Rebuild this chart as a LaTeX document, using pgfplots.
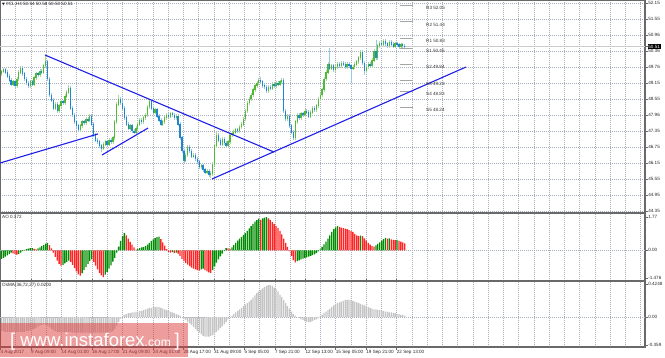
\documentclass[border=0pt]{standalone}
\usepackage{fontspec}
\setmainfont{Liberation Sans}
\newfontfamily\symfont{DejaVu Sans}
\usepackage{pgfplots}
\usepackage{pgfplotstable}
\pgfplotsset{compat=1.18}
\definecolor{cgreen}{RGB}{80,185,55}
\definecolor{cgreenL}{RGB}{170,218,150}
\definecolor{cblue}{RGB}{30,135,205}
\definecolor{cblueL}{RGB}{150,200,235}
\definecolor{aogreen}{RGB}{0,140,0}
\definecolor{aored}{RGB}{255,35,35}
\definecolor{osgray}{RGB}{196,196,196}
\definecolor{gridc}{RGB}{168,175,188}
\definecolor{framec}{RGB}{105,105,105}
\definecolor{tline}{RGB}{30,30,235}
\definecolor{wm}{RGB}{222,60,60}
\newcommand\mt{\fontsize{4.6}{5.5}\selectfont}

\pgfplotstableread{
k o c ao g os
0 49.50 49.58 -0.45 1 -0.18
1 49.58 49.65 -0.40 1 -0.18
2 49.65 49.55 -0.34 1 -0.19
3 49.55 49.40 -0.27 1 -0.19
4 49.40 49.25 -0.20 1 -0.19
5 49.25 49.10 -0.13 1 -0.19
6 49.10 49.20 -0.16 0 -0.19
7 49.20 49.05 -0.20 0 -0.19
8 49.05 49.30 -0.23 0 -0.19
9 49.30 49.55 -0.19 1 -0.19
10 49.55 49.70 -0.12 1 -0.19
11 49.70 49.50 -0.05 1 -0.19
12 49.50 49.30 0.02 1 -0.19
13 49.30 49.15 0.06 1 -0.18
14 49.15 49.05 0.09 1 -0.18
15 49.05 49.20 0.11 1 -0.17
16 49.20 49.10 0.12 1 -0.16
17 49.10 49.35 0.08 0 -0.15
18 49.35 49.50 0.05 0 -0.14
19 49.50 49.45 0.10 1 -0.12
20 49.45 49.60 0.16 1 -0.11
21 49.60 49.55 0.22 1 -0.10
22 49.55 49.80 0.28 1 -0.09
23 49.80 49.95 0.35 1 -0.10
24 49.95 49.30 0.40 1 -0.11
25 49.30 48.70 0.28 0 -0.13
26 48.70 48.50 0.10 0 -0.15
27 48.50 48.20 -0.12 0 -0.17
28 48.20 48.35 -0.35 0 -0.18
29 48.35 48.10 -0.55 0 -0.19
30 48.10 48.30 -0.72 0 -0.19
31 48.30 48.45 -0.82 0 -0.19
32 48.45 48.40 -0.78 1 -0.19
33 48.40 48.65 -0.70 1 -0.19
34 48.65 48.80 -0.62 1 -0.19
35 48.80 48.95 -0.55 1 -0.19
36 48.95 48.20 -0.62 0 -0.19
37 48.20 47.95 -0.78 0 -0.20
38 47.95 47.70 -0.95 0 -0.20
39 47.70 47.55 -1.12 0 -0.20
40 47.55 47.40 -1.28 0 -0.20
41 47.40 47.55 -1.35 0 -0.20
42 47.55 47.70 -1.22 1 -0.20
43 47.70 47.65 -1.05 1 -0.20
44 47.65 47.80 -0.90 1 -0.20
45 47.80 47.75 -0.72 1 -0.20
46 47.75 47.90 -0.58 1 -0.20
47 47.90 47.60 -0.48 1 -0.20
48 47.60 47.20 -0.62 0 -0.20
49 47.20 47.00 -0.82 0 -0.20
50 47.00 46.95 -1.02 0 -0.20
51 46.95 46.80 -1.20 0 -0.20
52 46.80 46.70 -1.34 0 -0.20
53 46.70 46.85 -1.42 0 -0.20
54 46.85 46.95 -1.30 1 -0.20
55 46.95 46.85 -1.15 1 -0.20
56 46.85 47.00 -0.98 1 -0.20
57 47.00 46.95 -0.80 1 -0.19
58 46.95 47.10 -0.60 1 -0.18
59 47.10 47.70 -0.40 1 -0.15
60 47.70 48.35 -0.12 1 -0.11
61 48.35 48.55 0.20 1 -0.06
62 48.55 48.40 0.50 1 -0.02
63 48.40 48.20 0.75 1 0.01
64 48.20 47.85 0.92 1 0.03
65 47.85 47.60 0.80 0 0.04
66 47.60 47.45 0.62 0 0.05
67 47.45 47.55 0.45 0 0.05
68 47.55 47.35 0.30 0 0.06
69 47.35 47.30 0.15 0 0.06
70 47.30 47.45 0.04 0 0.07
71 47.45 47.60 0.08 1 0.07
72 47.60 47.75 0.12 1 0.08
73 47.75 47.70 0.15 1 0.08
74 47.70 47.85 0.17 1 0.09
75 47.85 47.95 0.22 1 0.10
76 47.95 48.25 0.30 1 0.11
77 48.25 48.45 0.40 1 0.12
78 48.45 48.20 0.50 1 0.12
79 48.20 48.05 0.58 1 0.13
80 48.05 48.15 0.65 1 0.13
81 48.15 47.90 0.70 1 0.13
82 47.90 47.75 0.73 1 0.13
83 47.75 47.60 0.60 0 0.12
84 47.60 47.70 0.42 0 0.11
85 47.70 47.85 0.25 0 0.10
86 47.85 47.95 0.06 0 0.09
87 47.95 47.90 -0.08 0 0.08
88 47.90 48.00 -0.12 0 0.07
89 48.00 47.95 -0.10 1 0.06
90 47.95 47.85 -0.15 0 0.05
91 47.85 47.90 -0.12 1 0.04
92 47.90 47.60 -0.18 0 0.03
93 47.60 47.10 -0.30 0 0.02
94 47.10 46.60 -0.45 0 0.00
95 46.60 46.25 -0.58 0 -0.02
96 46.25 46.45 -0.68 0 -0.04
97 46.45 46.75 -0.76 0 -0.06
98 46.75 46.60 -0.84 0 -0.08
99 46.60 46.40 -0.92 0 -0.10
100 46.40 46.45 -0.98 0 -0.13
101 46.45 46.30 -1.02 0 -0.15
102 46.30 46.20 -1.06 0 -0.18
103 46.20 46.00 -1.08 0 -0.20
104 46.00 46.05 -1.02 1 -0.22
105 46.05 45.90 -0.98 1 -0.24
106 45.90 45.80 -1.05 0 -0.25
107 45.80 45.85 -1.12 0 -0.25
108 45.85 45.70 -1.18 0 -0.25
109 45.70 45.75 -1.20 0 -0.24
110 45.75 46.10 -1.05 1 -0.23
111 46.10 46.80 -0.85 1 -0.21
112 46.80 47.20 -0.65 1 -0.19
113 47.20 47.00 -0.48 1 -0.17
114 47.00 46.85 -0.32 1 -0.14
115 46.85 47.05 -0.18 1 -0.12
116 47.05 46.90 -0.05 1 -0.09
117 46.90 46.80 0.12 1 -0.06
118 46.80 46.95 0.10 0 -0.03
119 46.95 47.20 0.08 0 0.00
120 47.20 47.25 0.16 1 0.02
121 47.25 47.30 0.28 1 0.04
122 47.30 47.40 0.40 1 0.06
123 47.40 47.35 0.52 1 0.08
124 47.35 47.50 0.62 1 0.10
125 47.50 47.60 0.72 1 0.12
126 47.60 47.80 0.82 1 0.14
127 47.80 48.10 0.92 1 0.16
128 48.10 48.40 1.04 1 0.18
129 48.40 48.55 1.16 1 0.20
130 48.55 48.70 1.28 1 0.22
131 48.70 48.90 1.40 1 0.25
132 48.90 49.05 1.52 1 0.28
133 49.05 49.15 1.60 1 0.31
134 49.15 49.25 1.68 1 0.33
135 49.25 49.20 1.62 0 0.35
136 49.20 49.05 1.70 1 0.37
137 49.05 49.00 1.74 1 0.39
138 49.00 48.85 1.76 1 0.40
139 48.85 49.00 1.70 0 0.41
140 49.00 48.95 1.62 0 0.41
141 48.95 49.10 1.50 0 0.40
142 49.10 49.05 1.40 0 0.38
143 49.05 49.15 1.30 0 0.36
144 49.15 49.10 1.18 0 0.33
145 49.10 49.20 1.02 0 0.29
146 49.20 49.25 0.85 0 0.26
147 49.25 48.10 0.62 0 0.22
148 48.10 47.80 0.40 0 0.18
149 47.80 47.90 0.18 0 0.14
150 47.90 47.55 -0.05 0 0.11
151 47.55 47.30 -0.30 0 0.07
152 47.30 47.10 -0.52 0 0.04
153 47.10 47.70 -0.64 0 0.02
154 47.70 47.95 -0.58 1 0.00
155 47.95 47.85 -0.53 1 -0.01
156 47.85 48.00 -0.48 1 -0.03
157 48.00 47.95 -0.44 1 -0.04
158 47.95 48.10 -0.40 1 -0.05
159 48.10 48.05 -0.37 1 -0.06
160 48.05 47.90 -0.34 1 -0.06
161 47.90 48.05 -0.30 1 -0.06
162 48.05 48.20 -0.26 1 -0.05
163 48.20 48.15 -0.22 1 -0.04
164 48.15 48.30 -0.15 1 -0.03
165 48.30 48.55 -0.06 1 -0.01
166 48.55 48.70 0.05 1 0.01
167 48.70 48.90 0.18 1 0.03
168 48.90 49.30 0.32 1 0.05
169 49.30 49.55 0.46 1 0.07
170 49.55 49.85 0.62 1 0.09
171 49.85 49.70 0.80 1 0.11
172 49.70 49.80 0.98 1 0.13
173 49.80 49.65 1.12 1 0.15
174 49.65 49.75 1.22 1 0.17
175 49.75 49.85 1.28 1 0.18
176 49.85 49.80 1.24 0 0.19
177 49.80 49.90 1.20 0 0.20
178 49.90 49.85 1.18 0 0.21
179 49.85 49.75 1.15 0 0.22
180 49.75 49.85 1.12 0 0.22
181 49.85 49.80 1.08 0 0.22
182 49.80 49.70 1.03 0 0.22
183 49.70 49.75 0.98 0 0.21
184 49.75 49.85 0.88 0 0.20
185 49.85 49.95 0.80 0 0.19
186 49.95 50.10 0.75 0 0.18
187 50.10 50.30 0.78 1 0.17
188 50.30 49.90 0.76 0 0.16
189 49.90 49.60 0.64 0 0.15
190 49.60 49.75 0.52 0 0.14
191 49.75 49.85 0.40 0 0.13
192 49.85 49.80 0.30 0 0.12
193 49.80 50.00 0.22 0 0.11
194 50.00 50.35 0.20 0 0.10
195 50.35 50.10 0.26 1 0.10
196 50.10 50.55 0.34 1 0.09
197 50.55 50.65 0.42 1 0.09
198 50.65 50.60 0.52 1 0.08
199 50.60 50.72 0.60 1 0.08
200 50.72 50.62 0.66 1 0.07
201 50.62 50.55 0.62 0 0.07
202 50.55 50.68 0.64 1 0.06
203 50.68 50.60 0.58 0 0.06
204 50.60 50.52 0.56 0 0.05
205 50.52 50.62 0.54 0 0.05
206 50.62 50.58 0.55 1 0.04
207 50.58 50.50 0.50 0 0.04
208 50.50 50.58 0.46 0 0.03
209 50.58 50.54 0.42 0 0.03
210 50.54 50.51 0.37 0 0.02
}\bars

\pgfplotstableread{
k h l
23 50.20 49.75
35 49.07 48.75
61 48.70 48.30
77 48.55 48.20
109 45.85 45.60
112 47.30 46.75
187 50.39 50.05
}\spup

\pgfplotstableread{
k h l
52 46.85 46.56
95 46.65 46.15
135 49.37 49.15
152 47.35 47.00
171 50.45 49.65
182 49.85 49.20
189 49.95 49.45
195 50.76 50.05
}\spdn

\newcommand\XB{1.5+1.92*\thisrow{k}}

\pgfplotsset{
  mtpanel/.style={
    scale only axis, width=645pt, xmin=0, xmax=645,
    axis line style={framec, line width=1.1pt},
    xtick={15.7,30.94,...,641}, xticklabels={},
    xtick style={draw=none},
    xmajorgrids, ymajorgrids,
    grid style={gridc, dash pattern=on 1pt off 1pt, line width=0.5pt},
    ytick pos=right, yticklabel pos=right,
    ytick style={framec, line width=0.5pt},
    tick align=outside, major tick length=2.5pt,
    tick label style={font=\mt, text=black!85},
    yticklabel style={anchor=west, inner sep=0.6pt},
    clip mode=individual,
  },
  cndl/.style={only marks, mark=*, mark size=0pt, mark options={draw=none, fill=none}},
}

\begin{document}
\begin{tikzpicture}
\useasboundingbox (0pt,0pt) rectangle (665pt,-357pt);

% ---------------- main price panel ----------------
\begin{axis}[mtpanel, at={(0pt,0pt)}, anchor=north west, height=213pt,
  ymin=44.275, ymax=52.2625,
  ytick={44.35,44.95,45.55,46.15,46.75,47.35,47.95,48.55,49.15,49.75,50.35,50.95,51.55,52.15},
  yticklabels={44.35,44.95,45.55,46.15,46.75,47.35,47.96,48.55,49.15,49.76,50.36,50.96,51.55,52.15},
  extra y ticks={50.51}, extra y tick labels={50.51},
  extra y tick style={grid=major, major grid style={solid, gray!40, line width=0.7pt},
    yticklabel style={fill=black, text=white, inner sep=0.7pt}},
]
% wicks
\addplot[cndl, restrict expr to domain={\thisrow{c}-\thisrow{o}}{0:100},
  error bars/.cd, y dir=both, y explicit, error mark=none,
  error bar style={cgreenL, line width=0.7pt}]
  table[x expr={\XB}, y expr={(\thisrow{o}+\thisrow{c})/2}, y error expr={abs(\thisrow{c}-\thisrow{o})/2+0.07}] {\bars};
\addplot[cndl, restrict expr to domain={\thisrow{c}-\thisrow{o}}{-100:-0.0001},
  error bars/.cd, y dir=both, y explicit, error mark=none,
  error bar style={cblueL, line width=0.7pt}]
  table[x expr={\XB}, y expr={(\thisrow{o}+\thisrow{c})/2}, y error expr={abs(\thisrow{c}-\thisrow{o})/2+0.07}] {\bars};
\addplot[cndl,
  error bars/.cd, y dir=both, y explicit, error mark=none,
  error bar style={cgreenL, line width=0.7pt}]
  table[x expr={\XB}, y expr={(\thisrow{h}+\thisrow{l})/2}, y error expr={(\thisrow{h}-\thisrow{l})/2}] {\spup};
\addplot[cndl,
  error bars/.cd, y dir=both, y explicit, error mark=none,
  error bar style={cblueL, line width=0.7pt}]
  table[x expr={\XB}, y expr={(\thisrow{h}+\thisrow{l})/2}, y error expr={(\thisrow{h}-\thisrow{l})/2}] {\spdn};
% bodies
\addplot[cndl, restrict expr to domain={\thisrow{c}-\thisrow{o}}{0:100},
  error bars/.cd, y dir=both, y explicit, error mark=none,
  error bar style={cgreen, line width=1.35pt}]
  table[x expr={\XB}, y expr={(\thisrow{o}+\thisrow{c})/2}, y error expr={abs(\thisrow{c}-\thisrow{o})/2+0.015}] {\bars};
\addplot[cndl, restrict expr to domain={\thisrow{c}-\thisrow{o}}{-100:-0.0001},
  error bars/.cd, y dir=both, y explicit, error mark=none,
  error bar style={cblue, line width=1.35pt}]
  table[x expr={\XB}, y expr={(\thisrow{o}+\thisrow{c})/2}, y error expr={abs(\thisrow{c}-\thisrow{o})/2+0.015}] {\bars};
% pivot levels
\addplot[cndl, error bars/.cd, x dir=both, x fixed=6.5, error mark=none,
  error bar style={gray!70, line width=1.1pt}]
  coordinates {(406.5,52.05)(406.5,51.44)(406.5,50.83)(406.5,50.45)(406.5,49.84)(406.5,49.23)(406.5,48.83)(406.5,48.24)};
% trend lines
\addplot[tline, line width=1.1pt] coordinates {(45,50.20) (274,46.56)};
\addplot[tline, line width=1.1pt] coordinates {(212,45.55) (466,49.75)};
\addplot[tline, line width=1.1pt] coordinates {(0,46.15) (98,47.24)};
\addplot[tline, line width=1.1pt] coordinates {(102,46.45) (148,47.46)};
% labels
\node[anchor=west, font=\mt, text=black!80, inner sep=0pt, yshift=-2.6pt] at (axis cs:426,52.05) {R3 52.05};
\node[anchor=west, font=\mt, text=black!80, inner sep=0pt, yshift=-2.6pt] at (axis cs:426,51.44) {R2 51.44};
\node[anchor=west, font=\mt, text=black!80, inner sep=0pt, yshift=-2.6pt] at (axis cs:426,50.83) {R1 50.83};
\node[anchor=west, font=\mt, text=black!80, inner sep=0pt, yshift=-2.6pt] at (axis cs:426,50.45) {S1 50.45};
\node[anchor=west, font=\mt, text=black!80, inner sep=0pt, yshift=-2.6pt] at (axis cs:426,49.84) {S2 49.84};
\node[anchor=west, font=\mt, text=black!80, inner sep=0pt, yshift=-2.6pt] at (axis cs:426,49.23) {S3 49.23};
\node[anchor=west, font=\mt, text=black!80, inner sep=0pt, yshift=-2.6pt] at (axis cs:426,48.83) {S4 48.83};
\node[anchor=west, font=\mt, text=black!80, inner sep=0pt, yshift=-2.6pt] at (axis cs:426,48.24) {S5 48.24};
\node[anchor=north west, font=\mt, inner sep=0pt, text=black!85] at (axis cs:2,52.19) {{\symfont\fontsize{3.6}{4}\selectfont ▼} \#CL,H4 50.54 50.58 50.50 50.51};
\end{axis}

% ---------------- AO panel ----------------
\begin{axis}[mtpanel, at={(0pt,-213pt)}, anchor=north west, height=68pt,
  ymin=-1.633, ymax=1.984, ymajorgrids=false,
  ytick={-1.476,1.77}, yticklabels={-1.476,1.77},
  extra y ticks={0}, extra y tick labels={0.00}, extra y tick style={grid=major},
]
\addplot[ybar, bar width=1.3pt, bar shift=0pt, fill=aogreen, draw=none,
  restrict expr to domain={\thisrow{g}}{0.5:1.5}] table[x expr={\XB}, y=ao] {\bars};
\addplot[ybar, bar width=1.3pt, bar shift=0pt, fill=aored, draw=none,
  restrict expr to domain={\thisrow{g}}{-0.5:0.5}] table[x expr={\XB}, y=ao] {\bars};
\node[anchor=north west, font=\mt, inner sep=0pt, text=black!85] at (axis cs:2,1.88) {AO 0.372};
\end{axis}

% ---------------- OsMA panel ----------------
\begin{axis}[mtpanel, at={(0pt,-281pt)}, anchor=north west, height=66pt,
  ymin=-0.384, ymax=0.464, ymajorgrids=false,
  ytick={-0.359,0.4248}, yticklabels={-0.359,0.4248},
  extra y ticks={0}, extra y tick labels={0.00}, extra y tick style={grid=major},
  extra x ticks={0.4,31,61.4,91.9,122.4,152.9,183.3,213.8,244.3,274.8,305.3,335.7,366.2,396.7},
  extra x tick labels={4 Aug 2017,9 Aug 09:00,14 Aug 01:00,16 Aug 17:00,21 Aug 09:00,24 Aug 01:00,28 Aug 17:00,31 Aug 09:00,5 Sep 05:00,7 Sep 21:00,12 Sep 13:00,15 Sep 05:00,19 Sep 21:00,22 Sep 13:00},
  extra x tick style={grid=none, xtick style={draw=framec, line width=0.5pt},
    xticklabel style={anchor=north west, xshift=-0.8pt, inner sep=0.8pt}},
]
\addplot[ybar, bar width=1.3pt, bar shift=0pt, fill=osgray, draw=none] table[x expr={\XB}, y=os] {\bars};
\node[anchor=north west, font=\mt, inner sep=0pt, text=black!85] at (axis cs:2,0.445) {OsMA(36,72,27) 0.0200};
\end{axis}

% watermark
\fill[wm, opacity=0.5] (0pt,-322.7pt) rectangle (188pt,-357pt);
\node[anchor=base west, text=white, inner sep=0pt] at (10pt,-346.5pt)
  {\fontsize{18.5}{20}\selectfont[\hspace{5pt}www.instaforex\fontsize{12}{13}\selectfont.com\fontsize{18.5}{20}\selectfont\hspace{4pt}]};
\end{tikzpicture}
\end{document}
